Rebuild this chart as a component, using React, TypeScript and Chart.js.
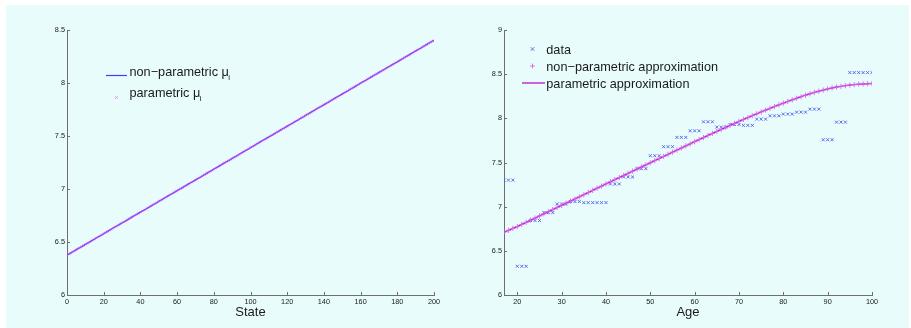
import React, { useEffect, useRef } from "react";
import { Chart, registerables } from "chart.js";

Chart.register(...registerables);

const BG = "rgb(232,252,252)";
const AXIS = "rgb(110,110,110)";
const TEXT = "#1a1a1a";
const FONT = "'Liberation Sans', Arial, Helvetica, sans-serif";

// ---------- left chart data ----------
const states = Array.from({ length: 201 }, (_, i) => i);
const nonParamMu = [
  6.376, 6.386, 6.396, 6.406, 6.417, 6.427, 6.437, 6.447, 6.457, 6.467,
  6.477, 6.487, 6.497, 6.507, 6.518, 6.528, 6.538, 6.548, 6.558, 6.568,
  6.579, 6.589, 6.599, 6.609, 6.62, 6.63, 6.64, 6.65, 6.66, 6.67,
  6.68, 6.69, 6.7, 6.71, 6.721, 6.731, 6.741, 6.751, 6.761, 6.771,
  6.781, 6.791, 6.801, 6.811, 6.822, 6.832, 6.842, 6.852, 6.862, 6.872,
  6.883, 6.893, 6.903, 6.913, 6.924, 6.934, 6.944, 6.954, 6.964, 6.974,
  6.984, 6.994, 7.004, 7.014, 7.025, 7.035, 7.045, 7.055, 7.065, 7.075,
  7.085, 7.095, 7.105, 7.115, 7.126, 7.136, 7.146, 7.156, 7.166, 7.176,
  7.187, 7.197, 7.207, 7.217, 7.228, 7.238, 7.248, 7.258, 7.268, 7.278,
  7.288, 7.298, 7.308, 7.318, 7.329, 7.339, 7.349, 7.359, 7.369, 7.379,
  7.39, 7.4, 7.41, 7.42, 7.431, 7.441, 7.451, 7.461, 7.471, 7.481,
  7.491, 7.501, 7.511, 7.521, 7.532, 7.542, 7.552, 7.562, 7.572, 7.582,
  7.592, 7.602, 7.612, 7.622, 7.633, 7.643, 7.653, 7.663, 7.673, 7.683,
  7.694, 7.704, 7.714, 7.724, 7.735, 7.745, 7.755, 7.765, 7.775, 7.785,
  7.795, 7.805, 7.815, 7.825, 7.836, 7.846, 7.856, 7.866, 7.876, 7.886,
  7.896, 7.906, 7.916, 7.926, 7.937, 7.947, 7.957, 7.967, 7.977, 7.987,
  7.998, 8.008, 8.018, 8.028, 8.039, 8.049, 8.059, 8.069, 8.079, 8.089,
  8.099, 8.109, 8.119, 8.129, 8.14, 8.15, 8.16, 8.17, 8.18, 8.19,
  8.2, 8.21, 8.22, 8.23, 8.241, 8.251, 8.261, 8.271, 8.281, 8.291,
  8.302, 8.312, 8.322, 8.332, 8.343, 8.353, 8.363, 8.373, 8.383, 8.393,
  8.403,
];
const paramMu = [...nonParamMu];
const stateTicks = [0, 20, 40, 60, 80, 100, 120, 140, 160, 180, 200];
const muTicks = [6, 6.5, 7, 7.5, 8, 8.5];

// ---------- right chart data ----------
const ages = [
  17, 18, 19, 20, 21, 22, 23, 24, 25, 26, 27, 28, 29, 30, 31, 32, 33, 34, 35, 36,
  37, 38, 39, 40, 41, 42, 43, 44, 45, 46, 47, 48, 49, 50, 51, 52, 53, 54, 55, 56,
  57, 58, 59, 60, 61, 62, 63, 64, 65, 66, 67, 68, 69, 70, 71, 72, 73, 74, 75, 76,
  77, 78, 79, 80, 81, 82, 83, 84, 85, 86, 87, 88, 89, 90, 91, 92, 93, 94, 95, 96,
  97, 98, 99, 100,
];
const ageData = [
  7.3, 7.3, 7.3, 6.325, 6.325, 6.325, 6.843, 6.843, 6.843, 6.933, 6.933, 6.933,
  7.031, 7.031, 7.031, 7.058, 7.058, 7.058, 7.046, 7.046, 7.046, 7.046, 7.046, 7.046,
  7.257, 7.257, 7.257, 7.336, 7.336, 7.336, 7.43, 7.43, 7.43, 7.577, 7.577, 7.577,
  7.679, 7.679, 7.679, 7.784, 7.784, 7.784, 7.859, 7.859, 7.859, 7.961, 7.961, 7.961,
  7.901, 7.901, 7.901, 7.93, 7.93, 7.93, 7.92, 7.92, 7.92, 7.991, 7.991, 7.991,
  8.029, 8.029, 8.029, 8.048, 8.048, 8.048, 8.07, 8.07, 8.07, 8.104, 8.104, 8.104,
  7.758, 7.758, 7.758, 7.957, 7.957, 7.957, 8.518, 8.518, 8.518, 8.518, 8.518, 8.518,
];
const nonParamApprox = [
  6.711, 6.732, 6.754, 6.775, 6.799, 6.823, 6.847, 6.871, 6.895, 6.919,
  6.943, 6.967, 6.991, 7.015, 7.039, 7.063, 7.087, 7.111, 7.135, 7.16,
  7.184, 7.209, 7.233, 7.258, 7.282, 7.306, 7.33, 7.354, 7.378, 7.402,
  7.426, 7.449, 7.473, 7.497, 7.521, 7.545, 7.569, 7.593, 7.617, 7.641,
  7.664, 7.688, 7.711, 7.735, 7.759, 7.782, 7.806, 7.829, 7.852, 7.875,
  7.898, 7.92, 7.943, 7.965, 7.987, 8.008, 8.03, 8.051, 8.072, 8.093,
  8.113, 8.133, 8.153, 8.172, 8.191, 8.209, 8.227, 8.245, 8.262, 8.278,
  8.293, 8.307, 8.32, 8.333, 8.344, 8.354, 8.362, 8.37, 8.377, 8.382,
  8.386, 8.389, 8.392, 8.394,
];
const paramApprox = [...nonParamApprox];
const ageTicks = [20, 30, 40, 50, 60, 70, 80, 90, 100];
const valueTicks = [6, 6.5, 7, 7.5, 8, 8.5, 9];

// ---------- colors ----------
const BLUE_LINE = "rgb(105,40,240)";
const PINK_X = "rgba(225,110,245,0.55)";
const DATA_BLUE = "rgb(80,95,235)";
const PLUS_PINK = "rgb(215,100,228)";
const MAGENTA_LINE = "rgb(185,35,210)";

const innerTicks = {
  id: "innerTicks",
  afterDraw(chart: any) {
    const { ctx, chartArea } = chart;
    const xs = chart.scales.x;
    const ys = chart.scales.y;
    ctx.save();
    ctx.strokeStyle = AXIS;
    ctx.lineWidth = 1;
    ctx.beginPath();
    xs.ticks.forEach((t: any) => {
      const px = Math.round(xs.getPixelForValue(t.value)) + 0.5;
      ctx.moveTo(px, chartArea.bottom);
      ctx.lineTo(px, chartArea.bottom - 3);
    });
    ys.ticks.forEach((t: any) => {
      const py = Math.round(ys.getPixelForValue(t.value)) + 0.5;
      ctx.moveTo(chartArea.left, py);
      ctx.lineTo(chartArea.left + 3, py);
    });
    ctx.stroke();
    ctx.restore();
  },
};

const customLegend = {
  id: "customLegend",
  afterDatasetsDraw(chart: any, _args: any, opts: any) {
    const { ctx } = chart;
    const items = (opts && opts.items) || [];
    ctx.save();
    items.forEach((it: any) => {
      ctx.strokeStyle = it.color;
      ctx.lineWidth = it.lw || 1;
      ctx.beginPath();
      if (it.kind === "line") {
        ctx.moveTo(it.sx1, it.sy);
        ctx.lineTo(it.sx2, it.sy);
      } else if (it.kind === "x") {
        const r = it.r;
        ctx.moveTo(it.sx - r, it.sy - r);
        ctx.lineTo(it.sx + r, it.sy + r);
        ctx.moveTo(it.sx - r, it.sy + r);
        ctx.lineTo(it.sx + r, it.sy - r);
      } else if (it.kind === "+") {
        const r = it.r;
        ctx.moveTo(it.sx - r, it.sy);
        ctx.lineTo(it.sx + r, it.sy);
        ctx.moveTo(it.sx, it.sy - r);
        ctx.lineTo(it.sx, it.sy + r);
      }
      ctx.stroke();
      ctx.fillStyle = TEXT;
      ctx.textBaseline = "alphabetic";
      ctx.textAlign = "left";
      ctx.font = `12.7px ${FONT}`;
      ctx.fillText(it.text, it.tx, it.ty);
      if (it.sub) {
        const w = ctx.measureText(it.text).width;
        ctx.font = `8px ${FONT}`;
        ctx.fillText(it.sub, it.tx + w - 0.5, it.ty + 4.5);
      }
    });
    ctx.restore();
  },
};

function axisCommon(ticksArr: number[], isX: boolean, size: number, title?: string) {
  const o: any = {
    type: "linear",
    grid: { display: false, drawTicks: false },
    border: { display: true, color: AXIS, width: 1 },
    ticks: {
      font: { family: FONT, size: 7.3 },
      color: TEXT,
      padding: isX ? 3 : 2,
      autoSkip: false,
      maxRotation: 0,
      minRotation: 0,
      callback: (v: any) => String(v),
    },
    afterBuildTicks: (s: any) => {
      s.ticks = ticksArr.map((v) => ({ value: v }));
    },
    afterFit: (s: any) => {
      if (isX) s.height = size;
      else s.width = size;
    },
  };
  if (title) {
    o.title = {
      display: true,
      text: title,
      color: TEXT,
      font: { family: FONT, size: 13 },
      padding: { top: 0, bottom: 8 },
    };
  }
  return o;
}

function LeftChart() {
  const ref = useRef<HTMLCanvasElement | null>(null);
  useEffect(() => {
    if (!ref.current) return;
    const chart = new Chart(ref.current, {
      type: "scatter",
      data: {
        datasets: [
          {
            label: "non-parametric",
            data: states.map((s, i) => ({ x: s, y: nonParamMu[i] })),
            showLine: true,
            borderColor: BLUE_LINE,
            borderWidth: 1.5,
            pointRadius: 0,
            order: 1,
          },
          {
            label: "parametric",
            data: states.map((s, i) => ({ x: s, y: paramMu[i] })),
            showLine: false,
            pointStyle: "crossRot",
            pointRadius: 1.8,
            borderColor: PINK_X,
            backgroundColor: PINK_X,
            pointBorderWidth: 0.7,
            order: 0,
          },
        ] as any,
      },
      options: {
        animation: false,
        responsive: false,
        events: [],
        layout: { padding: { top: 30, right: 21, left: 0, bottom: 0 } },
        plugins: {
          legend: { display: false },
          tooltip: { enabled: false },
          customLegend: {
            items: [
              { kind: "line", sx1: 106, sx2: 127, sy: 75.5, color: "rgb(60,60,250)", lw: 1.2, text: "non\u2212parametric \u03bc", sub: "i", tx: 129.5, ty: 75.5 },
              { kind: "x", sx: 116.5, sy: 97.5, r: 1.4, color: "rgba(225,110,245,0.8)", lw: 0.8, text: "parametric \u03bc", sub: "i", tx: 129.5, ty: 96.5 },
            ],
          },
        } as any,
        scales: {
          x: { ...axisCommon(stateTicks, true, 33, "State"), min: 0, max: 200 },
          y: { ...axisCommon(muTicks, false, 67), min: 6, max: 8.5 },
        },
      },
      plugins: [innerTicks, customLegend],
    });
    return () => chart.destroy();
  }, []);
  return (
    <canvas
      ref={ref}
      width={455}
      height={328}
      style={{ position: "absolute", left: 0, top: 0, width: 455, height: 328 }}
    />
  );
}

function RightChart() {
  const ref = useRef<HTMLCanvasElement | null>(null);
  useEffect(() => {
    if (!ref.current) return;
    const chart = new Chart(ref.current, {
      type: "scatter",
      data: {
        datasets: [
          {
            label: "data",
            data: ages.map((a, i) => ({ x: a, y: ageData[i] })),
            showLine: false,
            pointStyle: "crossRot",
            pointRadius: 2.1,
            borderColor: DATA_BLUE,
            backgroundColor: DATA_BLUE,
            pointBorderWidth: 0.9,
            order: 2,
          },
          {
            label: "non-parametric approximation",
            data: ages.map((a, i) => ({ x: a, y: nonParamApprox[i] })),
            showLine: false,
            pointStyle: "cross",
            pointRadius: 2.6,
            borderColor: PLUS_PINK,
            backgroundColor: PLUS_PINK,
            pointBorderWidth: 0.9,
            order: 0,
          },
          {
            label: "parametric approximation",
            data: ages.map((a, i) => ({ x: a, y: paramApprox[i] })),
            showLine: true,
            borderColor: MAGENTA_LINE,
            borderWidth: 1.4,
            pointRadius: 0,
            order: 1,
          },
        ] as any,
      },
      options: {
        animation: false,
        responsive: false,
        events: [],
        layout: { padding: { top: 30, right: 39, left: 0, bottom: 0 } },
        plugins: {
          legend: { display: false },
          tooltip: { enabled: false },
          customLegend: {
            items: [
              { kind: "x", sx: 532.5 - 455, sy: 49, r: 1.8, color: DATA_BLUE, lw: 0.9, text: "data", tx: 546.3 - 455, ty: 54 },
              { kind: "+", sx: 532.5 - 455, sy: 66, r: 2.4, color: PLUS_PINK, lw: 0.9, text: "non\u2212parametric approximation", tx: 546.3 - 455, ty: 70.8 },
              { kind: "line", sx1: 522 - 455, sx2: 545 - 455, sy: 83, color: MAGENTA_LINE, lw: 1.4, text: "parametric approximation", tx: 546.3 - 455, ty: 87.5 },
            ],
          },
        } as any,
        scales: {
          x: { ...axisCommon(ageTicks, true, 33, "Age"), min: 17, max: 100 },
          y: { ...axisCommon(valueTicks, false, 49), min: 6, max: 9 },
        },
      },
      plugins: [innerTicks, customLegend],
    });
    return () => chart.destroy();
  }, []);
  return (
    <canvas
      ref={ref}
      width={456}
      height={328}
      style={{ position: "absolute", left: 455, top: 0, width: 456, height: 328 }}
    />
  );
}

export default function App() {
  return (
    <div
      style={{
        position: "absolute",
        left: 0,
        top: 0,
        width: 911,
        height: 328,
        background: "#ffffff",
        overflow: "hidden",
      }}
    >
      <div
        style={{
          position: "absolute",
          left: 6,
          top: 5,
          width: 903,
          height: 323,
          background: BG,
        }}
      />
      <LeftChart />
      <RightChart />
    </div>
  );
}
